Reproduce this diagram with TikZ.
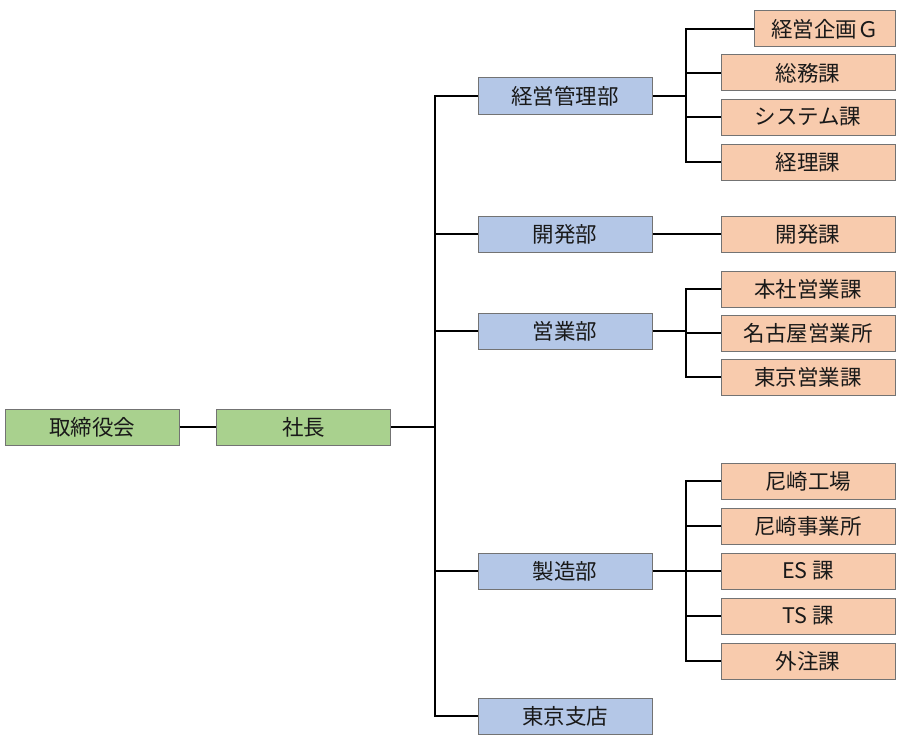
\documentclass[tikz,border=0pt]{standalone}
\usepackage{fontspec}
\setmainfont{Noto Sans CJK JP}
\begin{document}
\begin{tikzpicture}[x=1pt,y=-1pt,
  box/.style={draw=black!55, line width=1pt, minimum width=174pt, minimum height=36pt, inner sep=0pt, font=\fontsize{21.5}{22}\selectfont, text=black!90},
  green/.style={box, fill=gbox},
  blue/.style={box, fill=bbox},
  orange/.style={box, fill=obox},
  link/.style={line width=1.5pt, black}]
\definecolor{gbox}{HTML}{A9D18E}
\definecolor{bbox}{HTML}{B4C7E7}
\definecolor{obox}{HTML}{F8CBAD}
\useasboundingbox (0,0) rectangle (900,752);
% level 0/1
\node[green] (tori) at (92,427) {取締役会};
\node[green] (sha) at (303.5,427) {社長};
% departments
\node[blue] (kei) at (565,96) {経営管理部};
\node[blue] (kai) at (565,234) {開発部};
\node[blue] (ei) at (565,331) {営業部};
\node[blue] (sei) at (565,571) {製造部};
\node[blue] (tou) at (565,716) {東京支店};
% sections
\node[orange, minimum width=141pt] (kik) at (825,29) {経営企画Ｇ};
\node[orange] (som) at (808,73) {総務課};
\node[orange] (sys) at (808,117) {システム課};
\node[orange] (kri) at (808,162) {経理課};
\node[orange] (kak) at (808,234) {開発課};
\node[orange] (hon) at (808,289) {本社営業課};
\node[orange] (nag) at (808,333) {名古屋営業所};
\node[orange] (tek) at (808,377) {東京営業課};
\node[orange] (ako) at (808,481) {尼崎工場};
\node[orange] (aji) at (808,526) {尼崎事業所};
\node[orange] (es) at (808,571) {ES 課};
\node[orange] (ts) at (808,616) {TS 課};
\node[orange] (gai) at (808,661) {外注課};
% bus coordinates
\coordinate (trunk) at (435,427);
\coordinate (b1) at (686,96);
\coordinate (b3) at (686,331);
\coordinate (b4) at (686,571);
% connectors
\draw[link] (tori.east) -- (sha.west);
\draw[link] (sha.east) -- (trunk);
\foreach \d in {kei,kai,ei,sei,tou} \draw[link] (trunk) |- (\d.west);
\draw[link] (kei.east) -- (b1);
\foreach \s in {kik,som,sys,kri} \draw[link] (b1) |- (\s.west);
\draw[link] (kai.east) -- (kak.west);
\draw[link] (ei.east) -- (b3);
\foreach \s in {hon,nag,tek} \draw[link] (b3) |- (\s.west);
\draw[link] (sei.east) -- (b4);
\foreach \s in {ako,aji,es,ts,gai} \draw[link] (b4) |- (\s.west);
\end{tikzpicture}
\end{document}
